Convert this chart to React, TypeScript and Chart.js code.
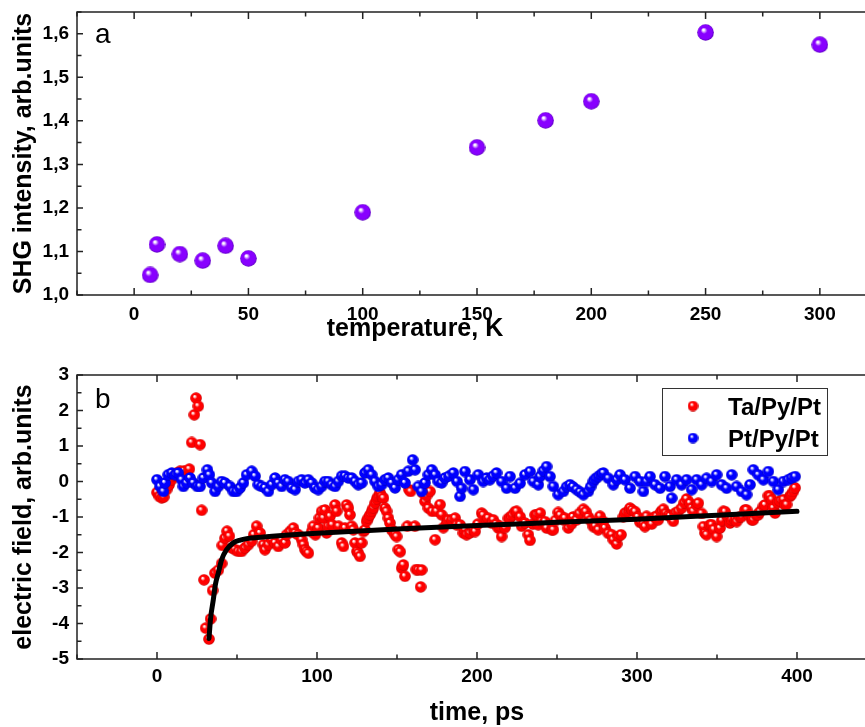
import { useEffect, useRef } from 'react';
import { Chart, registerables } from 'chart.js';

Chart.register(...registerables);

const FONT = "'Liberation Sans', Arial, Helvetica, sans-serif";
const AXIS = '#222222';

// ---- panel a: SHG intensity vs temperature ----
const tempK = [7, 10, 20, 30, 40, 50, 100, 150, 180, 200, 250, 300];
const shgIntensity = [1.046, 1.116, 1.094, 1.079, 1.113, 1.084, 1.19, 1.339, 1.401, 1.445, 1.603, 1.575];
const tempTicks = [0, 50, 100, 150, 200, 250, 300];
const shgTicks = [1.0, 1.1, 1.2, 1.3, 1.4, 1.5, 1.6];

// ---- panel b: electric field vs time ----
const taTime = [
  0, 1.5, 2.9, 4.2, 6, 7.5, 9.2, 11, 13, 14.4, 17, 20.2, 21.7, 23.3, 24.4, 25.8, 26.9, 27.9, 29.4, 30.4,
  32.5, 33.5, 34.8, 36.2, 38.3, 40.4, 40.8, 42.5, 43.8, 45.2, 46.7, 48.8, 50.8, 52.9, 55, 57.1, 59.2, 60.5, 62.3, 64.4,
  66.5, 67.5, 69.6, 71.7, 73.8, 75.8, 77.9, 80, 81, 83.1, 85.2, 86.5, 88.3, 90.4, 91.5, 92.5, 93.5, 94.6, 96.7, 97.7,
  99, 100.8, 101.5, 102.9, 104, 105, 106, 107.1, 108.1, 109.5, 111.3, 112.3, 113.5, 115.4, 116.5, 117.5, 118.5, 119.6, 120.6, 121.7,
  122.7, 123.8, 125, 125.8, 126.8, 127.9, 129, 130, 131, 132, 133.1, 134.2, 135.2, 136.3, 137.3, 138.3, 139.4, 140.4, 141.5, 142.5,
  143.5, 144.6, 145.6, 146.7, 147.7, 148.8, 149.8, 150.8, 152, 152.9, 154, 155, 156.5, 157.5, 158.5, 161.2, 162, 163.3, 164.8, 165.4,
  166, 167.5, 168.5, 169.6, 170.6, 172, 173.8, 174.8, 176.9, 177.9, 179, 181, 182.1, 184.2, 186.3, 187.3, 189.4, 191.5, 192.5, 193.5,
  195.5, 197.7, 198.8, 200.5, 202.9, 203.9, 206, 207, 209.1, 210.2, 212, 213.3, 214.2, 215.4, 217.5, 219.6, 220.6, 222, 223.8, 224.8,
  226.9, 227.9, 230, 232.1, 233.1, 235, 236.3, 237.3, 238.3, 239.5, 240.4, 242.5, 243.5, 246.7, 247.7, 249, 250.8, 252, 253.9, 254.9,
  257.1, 259, 260, 262.3, 264, 266.5, 268, 269.6, 271, 272.7, 273.8, 275.8, 276.9, 279, 280, 282.1, 284.2, 285.2, 287.3, 288.3,
  290, 291.5, 292.5, 294.6, 295.6, 297, 298.8, 300.5, 301.9, 304, 305, 306, 308, 309.2, 311, 312.3, 313.3, 315, 316.5, 318,
  319.6, 320.6, 322.7, 323.8, 325.8, 327.9, 329.5, 331, 333.1, 334.2, 335.2, 337.3, 338.3, 340.4, 341.5, 342.5, 343.5, 345.6, 346.7, 348,
  349.8, 351.9, 353, 354, 355, 357, 358.1, 359.2, 361.3, 362.3, 364, 365.4, 367.5, 368.5, 370, 371.7, 372.7, 374.5, 375.8, 376.9,
  379, 380, 382.1, 383, 384.2, 385.2, 386.3, 388, 389.4, 391.5, 392.5, 393.5, 395.6, 396.5, 397.7, 398.8,
];
const taField = [
  -0.31, -0.42, -0.46, -0.44, -0.23, -0.1, 0.05, 0.15, 0.25, 0.29, 0.3, 0.35, 1.1, 1.88, 2.35, 2.12, 1.04, -0.81, -2.77, -4.13,
  -4.44, -3.87, -3.07, -2.58, -2.5, -2.31, -1.8, -1.6, -1.4, -1.54, -1.87, -1.92, -1.97, -1.97, -1.87, -1.78, -1.68, -1.5, -1.26, -1.45,
  -1.78, -1.92, -1.78, -1.64, -1.73, -1.83, -1.64, -1.73, -1.5, -1.41, -1.31, -1.45, -1.5, -1.64, -1.78, -1.92, -1.97, -2.02, -1.41, -1.26,
  -1.5, -1.31, -1.03, -0.84, -1.03, -0.8, -1.45, -1.26, -0.98, -1.22, -0.66, -0.84, -1.26, -1.73, -1.83, -1.31, -0.66, -0.75, -0.94, -1.26,
  -1.36, -1.73, -1.97, -2.02, -2.11, -1.73, -1.41, -1.36, -1.12, -1.03, -0.94, -0.84, -0.75, -0.61, -0.5, -0.42, -0.32, -0.42, -0.47, -0.75,
  -0.84, -1.03, -1.17, -1.36, -1.41, -1.5, -1.55, -1.92, -1.98, -2.44, -2.35, -2.67, -1.26, -0.23, -0.28, -1.26, -2.48, -2.49, -2.97, -2.49,
  -0.32, -0.56, -0.4, -0.75, -0.28, -0.84, -1.64, -0.84, -0.65, -0.94, -1.3, -1.17, -1.08, -1.08, -1.03, -1.22, -1.22, -1.45, -1.36, -1.5,
  -1.45, -1.36, -1.41, -1.2, -0.89, -0.95, -1.08, -1.03, -1.17, -1.08, -1.2, -1.31, -1.26, -1.55, -1.3, -1.04, -1.03, -0.95, -0.85, -0.84,
  -0.99, -1.26, -1.17, -1.5, -1.66, -1.2, -0.94, -0.94, -1.22, -0.89, -1.12, -1.13, -1.31, -1.36, -1.36, -1.1, -0.87, -0.95, -1.08, -1.03,
  -1.31, -1.2, -1.0, -1.08, -0.9, -0.78, -0.85, -1.0, -1.1, -1.27, -1.26, -1.36, -0.98, -1.13, -1.31, -1.46, -1.5, -1.64, -1.76, -1.55,
  -1.5, -1.0, -0.89, -0.85, -0.75, -0.8, -0.85, -1.0, -1.15, -1.2, -1.27, -0.98, -1.1, -1.2, -1.0, -0.98, -1.08, -0.85, -0.78, -0.9,
  -0.95, -0.98, -1.12, -0.89, -0.84, -0.75, -0.6, -0.49, -0.61, -0.75, -0.84, -0.66, -0.61, -0.9, -1.27, -1.45, -1.5, -1.22, -1.22, -1.35,
  -1.55, -1.31, -1.1, -0.84, -0.85, -1.0, -1.17, -1.08, -1.08, -1.13, -1.0, -0.99, -0.8, -0.8, -0.95, -1.08, -1.08, -0.95, -0.94, -0.85,
  -0.7, -0.66, -0.4, -0.42, -0.51, -0.75, -0.89, -0.6, -0.55, -0.51, -0.66, -0.65, -0.42, -0.37, -0.28, -0.18,
];

const ptTime = [
  0, 1.9, 4, 5, 7, 9.2, 11.3, 13.3, 15.4, 16.5, 18.5, 20.6, 22.7, 25.2, 26.9, 29, 31.5, 32.7, 34.2, 36.3,
  38.3, 40.4, 42.5, 45.6, 47.7, 49.8, 51.9, 54, 56, 59.2, 61.3, 63.3, 65.4, 67.5, 69.6, 71.7, 73.8, 75.8, 77.9, 80,
  82, 84.2, 86.3, 88.3, 90.4, 92.5, 94.6, 96.7, 98.8, 100.8, 102.9, 105, 107.1, 109.2, 111.3, 113.3, 115.4, 117.5, 119.6, 121.7,
  123.8, 125.8, 127.9, 130, 132.1, 134.2, 136.3, 138.3, 140.4, 142.5, 144.6, 146.7, 148.8, 150.8, 152.9, 155, 157.1, 159.8, 161.3, 163.3,
  165.4, 167.5, 169.6, 171.7, 173.8, 175.8, 177.9, 180, 182.5, 185.2, 187.5, 189.4, 190.4, 192.5, 195.6, 197.7, 200.8, 203.9, 206, 208,
  210, 212.2, 215.4, 218.5, 220.6, 223.8, 226.9, 230, 233.1, 235.2, 238.3, 239.4, 241.5, 243.5, 245.6, 247.7, 250.8, 254, 256, 258.1,
  260, 262.3, 264.5, 266.5, 269.6, 271, 272.7, 274, 275.8, 277.5, 279, 282.1, 285.2, 287.5, 289.4, 292.5, 295.6, 298.8, 301.9, 304,
  306, 308.1, 311.3, 314.4, 317.5, 320.6, 321.7, 324.8, 327.9, 331, 334.2, 337.3, 340.4, 343.5, 346.7, 349.8, 352.9, 356, 359.2, 362.3,
  365.4, 368.5, 370.6, 372.7, 375.8, 379, 382.1, 385.2, 388.3, 391.5, 394.6, 396.7, 398.8,
];
const ptField = [
  0.05, -0.14, -0.28, -0.04, 0.19, 0.24, 0.19, 0.24, 0.05, -0.14, -0.04, 0.1, -0.04, -0.14, -0.14, 0.1, 0.33, 0.19, -0.04, -0.28,
  -0.14, 0, -0.04, -0.14, -0.28, -0.28, -0.18, -0.04, 0.19, 0.29, 0.15, -0.09, -0.14, -0.18, -0.28, -0.09, 0.1, -0.04, -0.14, 0.05,
  0, -0.18, -0.23, 0, 0.05, -0.04, 0.05, -0.04, -0.18, -0.23, -0.14, 0, 0, -0.09, -0.14, 0, 0.15, 0.15, 0.1, 0.1,
  0, -0.09, -0.04, 0.24, 0.33, 0.19, 0, -0.14, -0.09, 0.05, 0.1, -0.04, -0.18, 0.05, 0.19, -0.04, 0.29, 0.61, 0.33, -0.14,
  -0.28, -0.04, 0.19, 0.33, 0.19, 0.0, -0.04, 0.1, 0.15, 0.24, 0.0, -0.42, -0.19, 0.28, 0.05, -0.23, 0.19, 0, 0.1, 0.05,
  0.15, 0.24, 0, -0.19, 0.14, -0.19, -0.05, 0.19, 0.28, 0, -0.09, 0.14, 0.3, 0.42, 0.14, -0.14, -0.37, -0.28, -0.15, -0.09,
  -0.15, -0.23, -0.3, -0.37, -0.28, -0.15, 0, 0.08, 0.14, 0.2, 0.24, 0.09, -0.09, 0.05, 0.19, 0.05, -0.19, 0.14, 0, -0.28,
  0, 0.14, -0.09, -0.19, 0.14, -0.14, -0.47, 0.05, -0.09, 0.05, -0.23, 0.05, -0.09, 0.09, 0, 0.19, -0.09, -0.19, 0.19, -0.14,
  -0.28, -0.37, -0.09, 0.33, 0.19, 0.05, 0.28, 0, -0.23, 0, 0.05, 0.1, 0.14,
];

const fitTime = [32.5, 33.5, 35.2, 36.5, 38.3, 40.4, 43.5, 47.7, 52, 56, 65, 100, 150, 200, 250, 300, 350, 400];
const fitField = [-4.42, -3.85, -3.33, -2.9, -2.58, -2.2, -1.92, -1.73, -1.65, -1.61, -1.57, -1.46, -1.34, -1.24, -1.15, -1.06, -0.95, -0.84];

const timeTicks = [0, 100, 200, 300, 400];
const fieldTicks = [-5, -4, -3, -2, -1, 0, 1, 2, 3];

function makeSphere(d: number, base: string, dark: string) {
  const c = document.createElement('canvas');
  c.width = d;
  c.height = d;
  const g = c.getContext('2d') as CanvasRenderingContext2D;
  const r = d / 2;
  const grad = g.createRadialGradient(r * 0.72, r * 0.66, 0, r, r, r);
  grad.addColorStop(0, '#ffffff');
  grad.addColorStop(0.1, '#ffffff');
  grad.addColorStop(0.38, base);
  grad.addColorStop(0.82, base);
  grad.addColorStop(1, dark);
  g.fillStyle = grad;
  g.beginPath();
  g.arc(r, r, r - 0.2, 0, Math.PI * 2);
  g.fill();
  return c;
}

function minorsOf(major: number[], min: number, max: number) {
  const step = major[1] - major[0];
  let v = major[0] - step / 2;
  while (v - step >= min - 1e-9) v -= step;
  const out: number[] = [];
  for (; v <= max + 1e-9; v += step) if (v >= min - 1e-9) out.push(v);
  return out;
}

function noPad(s: any) {
  s.paddingTop = 0;
  s.paddingBottom = 0;
  s.paddingLeft = 0;
  s.paddingRight = 0;
}

function framePlugin(cfg: { letter: string; letterDy: number; legend?: boolean; xTitle?: string; xTitleX?: number; xTitleDy?: number }) {
  return {
    id: 'frame' + cfg.letter,
    afterDraw(chart: any) {
      const { ctx, chartArea: a } = chart;
      const xs = chart.scales.x;
      const ys = chart.scales.y;
      ctx.save();
      ctx.strokeStyle = AXIS;
      ctx.lineWidth = 1.5;
      ctx.beginPath();
      ctx.rect(a.left, a.top, a.right - a.left, a.bottom - a.top);
      ctx.stroke();
      const xMaj = xs.ticks.map((t: any) => t.value);
      const yMaj = ys.ticks.map((t: any) => t.value);
      ctx.beginPath();
      const seg = (x1: number, y1: number, x2: number, y2: number) => {
        ctx.moveTo(x1, y1);
        ctx.lineTo(x2, y2);
      };
      for (const v of xMaj) {
        const p = xs.getPixelForValue(v);
        seg(p, a.bottom, p, a.bottom - 7);
        seg(p, a.top, p, a.top + 7);
      }
      for (const v of minorsOf(xMaj, xs.min, xs.max)) {
        const p = xs.getPixelForValue(v);
        seg(p, a.bottom, p, a.bottom - 4.5);
        seg(p, a.top, p, a.top + 4.5);
      }
      for (const v of yMaj) {
        const p = ys.getPixelForValue(v);
        seg(a.left, p, a.left + 6, p);
        seg(a.right, p, a.right - 6, p);
      }
      for (const v of minorsOf(yMaj, ys.min, ys.max)) {
        const p = ys.getPixelForValue(v);
        seg(a.left, p, a.left + 4.5, p);
        seg(a.right, p, a.right - 4.5, p);
      }
      ctx.stroke();

      ctx.fillStyle = '#000';
      ctx.font = `28px ${FONT}`;
      ctx.textAlign = 'left';
      ctx.textBaseline = 'alphabetic';
      ctx.fillText(cfg.letter, a.left + 18, a.top + cfg.letterDy);

      if (cfg.xTitle) {
        ctx.font = `bold 25px ${FONT}`;
        ctx.textAlign = 'center';
        ctx.fillText(cfg.xTitle, cfg.xTitleX as number, a.bottom + (cfg.xTitleDy as number));
        ctx.textAlign = 'left';
      }

      if (cfg.legend) {
        const bx = a.left + 585;
        const by = a.top + 13;
        const bw = 165;
        const bh = 67;
        ctx.fillStyle = '#fff';
        ctx.fillRect(bx, by, bw, bh);
        ctx.strokeStyle = '#333';
        ctx.lineWidth = 1;
        ctx.strokeRect(bx + 0.5, by + 0.5, bw, bh);
        const items = chart.data.datasets.filter((d: any) => d.legendImg).sort((p: any, q: any) => p.legendRank - q.legendRank);
        ctx.font = `bold 24px ${FONT}`;
        ctx.fillStyle = '#000';
        items.forEach((d: any, i: number) => {
          const cy = by + 18 + i * 32;
          const img = d.legendImg;
          ctx.drawImage(img, bx + 31 - img.width / 2, cy - img.height / 2);
          ctx.fillText(d.label, bx + 66, cy + 8.5);
        });
      }
      ctx.restore();
    },
  };
}

const tickFont = { family: FONT, size: 19, weight: 'bold' as const };
const titleFont = { family: FONT, size: 25, weight: 'bold' as const, lineHeight: 1.0 };

export default function App() {
  const topRef = useRef<HTMLCanvasElement>(null);
  const botRef = useRef<HTMLCanvasElement>(null);

  useEffect(() => {
    const purple = makeSphere(17, '#8800ff', '#5500b5');
    const red = makeSphere(12, '#ff0000', '#b00000');
    const blue = makeSphere(12, '#0000ff', '#0000a8');
    const redL = makeSphere(11, '#ff0000', '#b00000');
    const blueL = makeSphere(11, '#0000ff', '#0000a8');

    const c1 = new Chart(topRef.current as HTMLCanvasElement, {
      type: 'scatter',
      data: {
        datasets: [
          {
            label: 'SHG',
            data: tempK.map((t, i) => ({ x: t, y: shgIntensity[i] })),
            pointStyle: purple as any,
            pointRadius: 8,
          },
        ],
      },
      options: {
        responsive: false,
        animation: false,
        devicePixelRatio: 1,
        events: [],
        layout: { autoPadding: false, padding: { left: 0, top: 12, right: 1, bottom: 0 } },
        plugins: { legend: { display: false }, tooltip: { enabled: false } },
        scales: {
          x: {
            type: 'linear',
            min: -25,
            max: 325,
            afterBuildTicks: (s: any) => {
              s.ticks = tempTicks.map((value) => ({ value }));
            },
            afterFit: (s: any) => {
              s.height = 50;
              noPad(s);
            },
            grid: { display: false, drawTicks: false },
            border: { display: false },
            ticks: { color: '#000', font: tickFont, padding: 8, maxRotation: 0, autoSkip: false, callback: (v: any) => String(v) },
            title: { display: false },
          },
          y: {
            type: 'linear',
            min: 1.0,
            max: 1.65,
            afterBuildTicks: (s: any) => {
              s.ticks = shgTicks.map((value) => ({ value }));
            },
            afterFit: (s: any) => {
              s.width = 77;
              noPad(s);
            },
            grid: { display: false, drawTicks: false },
            border: { display: false },
            ticks: { color: '#000', font: tickFont, padding: 8, autoSkip: false, callback: (v: any) => Number(v).toFixed(1).replace('.', ',') },
            title: { display: true, text: 'SHG intensity, arb.units', color: '#000', font: titleFont, padding: { top: 11.5, bottom: 0 } },
          },
        },
      } as any,
      plugins: [framePlugin({ letter: 'a', letterDy: 31, xTitle: 'temperature, K', xTitleX: 415, xTitleDy: 41 })],
    });

    const c2 = new Chart(botRef.current as HTMLCanvasElement, {
      type: 'scatter',
      data: {
        datasets: [
          {
            label: 'fit',
            data: fitTime.map((t, i) => ({ x: t, y: fitField[i] })),
            showLine: true,
            borderColor: '#000',
            borderWidth: 5,
            borderCapStyle: 'round',
            pointRadius: 0,
            cubicInterpolationMode: 'monotone',
            order: 0,
          },
          {
            label: 'Pt/Py/Pt',
            data: ptTime.map((t, i) => ({ x: t, y: ptField[i] })),
            pointStyle: blue as any,
            pointRadius: 6,
            order: 1,
            legendImg: blueL,
            legendRank: 2,
          },
          {
            label: 'Ta/Py/Pt',
            data: taTime.map((t, i) => ({ x: t, y: taField[i] })),
            pointStyle: red as any,
            pointRadius: 6,
            order: 2,
            legendImg: redL,
            legendRank: 1,
          },
        ] as any,
      },
      options: {
        responsive: false,
        animation: false,
        devicePixelRatio: 1,
        events: [],
        layout: { autoPadding: false, padding: { left: 0, top: 30, right: 1, bottom: 0 } },
        plugins: { legend: { display: false }, tooltip: { enabled: false } },
        scales: {
          x: {
            type: 'linear',
            min: -50,
            max: 450,
            afterBuildTicks: (s: any) => {
              s.ticks = timeTicks.map((value) => ({ value }));
            },
            afterFit: (s: any) => {
              s.height = 68;
              noPad(s);
            },
            grid: { display: false, drawTicks: false },
            border: { display: false },
            ticks: { color: '#000', font: tickFont, padding: 6, maxRotation: 0, autoSkip: false, callback: (v: any) => String(v) },
            title: { display: true, text: 'time, ps', color: '#000', font: titleFont, padding: { top: 0, bottom: 1 } },
          },
          y: {
            type: 'linear',
            min: -5,
            max: 3,
            afterBuildTicks: (s: any) => {
              s.ticks = fieldTicks.map((value) => ({ value }));
            },
            afterFit: (s: any) => {
              s.width = 77;
              noPad(s);
            },
            grid: { display: false, drawTicks: false },
            border: { display: false },
            ticks: { color: '#000', font: tickFont, padding: 8, autoSkip: false, callback: (v: any) => String(v) },
            title: { display: true, text: 'electric field, arb.units', color: '#000', font: titleFont, padding: { top: 11.5, bottom: 0 } },
          },
        },
      } as any,
      plugins: [framePlugin({ letter: 'b', letterDy: 33, legend: true })],
    });

    return () => {
      c1.destroy();
      c2.destroy();
    };
  }, []);

  return (
    <div style={{ position: 'fixed', left: 0, top: 0, width: 865, height: 727, overflow: 'hidden', background: '#fff' }}>
      <canvas ref={topRef} width={878} height={345} style={{ position: 'absolute', left: 0, top: 0, width: 878, height: 345 }} />
      <canvas ref={botRef} width={878} height={382} style={{ position: 'absolute', left: 0, top: 345, width: 878, height: 382 }} />
    </div>
  );
}
